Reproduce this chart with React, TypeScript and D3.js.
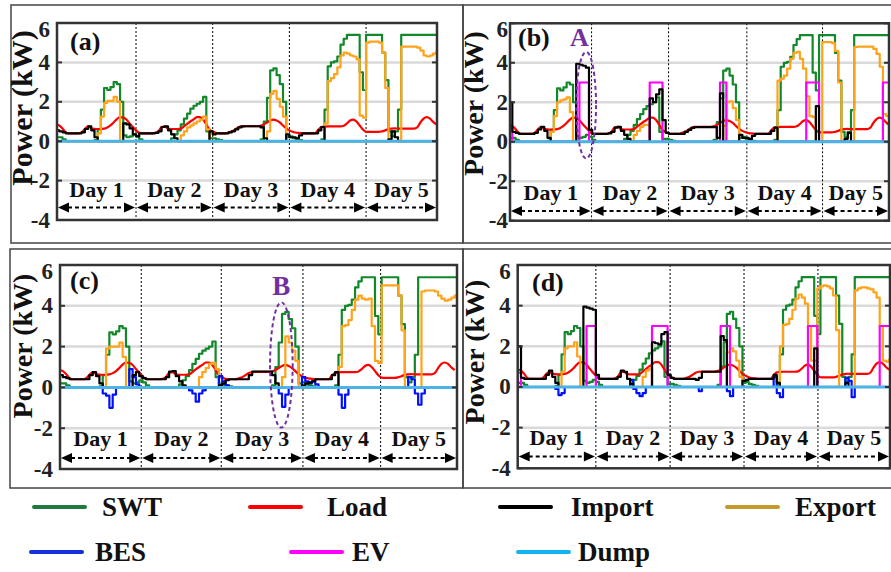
import React from "react";
import * as d3 from "d3";

// hourly samples, first sample at hour -1
const T_START = -1;

const SWT = [
  0.2,
  0.2, 0.1, 0, 0, 0, 0, 0, 0, 0, 0, 0, 0.05, 0.6, 1.6, 2.7, 2.6, 2.75, 3.0, 2.9, 2.0, 0.3, 0.2, 0.25, 0.35,
  0.25, 0.1, 0, 0, 0, 0, 0, 0, 0, 0, 0, 0.15, 0.35, 0.55, 0.85, 1.15, 1.4, 1.65, 1.8, 1.9, 2.0, 2.25, 0.5, 0.15,
  0.15, 0.1, 0.05, 0, 0, 0, 0, 0, 0, 0, 0, 0, 0, 0, 0, 0.1, 1.0, 2.2, 3.6, 3.7, 3.35, 2.9, 2.0, 0.2,
  0.25, 0.15, 0.1, 0.05, 0, 0, 0, 0, 0, 0, 0.1, 1.6, 3.8, 4.0, 4.05, 4.3, 4.9, 5.2, 5.4, 5.4, 5.4, 5.4, 3.5, 2.6,
  5.4, 5.4, 5.4, 5.4, 5.4, 4.5, 3.1, 0.5, 0.25, 0.5, 1.6, 5.4, 5.4, 5.4, 5.4, 5.4, 5.4, 5.4, 5.4, 5.4, 5.4, 5.4, 5.4,
];

const LOAD = [
  0.85,
  0.8, 0.65, 0.45, 0.4, 0.4, 0.4, 0.4, 0.45, 0.62, 0.75, 0.66, 0.63, 0.62, 0.62, 0.64, 0.7, 0.8, 0.95, 1.12, 1.22, 1.2, 1.1, 0.9, 0.72,
  0.55, 0.42, 0.4, 0.4, 0.4, 0.4, 0.42, 0.5, 0.72, 0.75, 0.64, 0.62, 0.62, 0.62, 0.64, 0.75, 0.88, 1.0, 1.1, 1.22, 1.22, 1.1, 0.85, 0.6,
  0.5, 0.42, 0.4, 0.4, 0.4, 0.45, 0.5, 0.6, 0.7, 0.75, 0.76, 0.76, 0.76, 0.76, 0.76, 0.78, 0.85, 0.95, 1.05, 1.1, 1.05, 0.95, 0.8, 0.65,
  0.55, 0.48, 0.44, 0.42, 0.4, 0.4, 0.4, 0.4, 0.4, 0.58, 0.72, 0.74, 0.75, 0.75, 0.75, 0.75, 0.75, 0.78, 0.9, 1.05, 1.1, 1.0, 0.8, 0.6,
  0.48, 0.47, 0.47, 0.47, 0.47, 0.5, 0.55, 0.62, 0.64, 0.65, 0.64, 0.64, 0.64, 0.64, 0.64, 0.64, 0.7, 0.95, 1.15, 1.22, 1.15, 0.98, 0.85,
];

const IMPORT_A = [
  0.55,
  0.5, 0.45, 0.4, 0.4, 0.4, 0.4, 0.4, 0.45, 0.62, 0.75, 0.55, 0.2, 0, 0, 0, 0, 0, 0, 0, 0, 0.9, 0.85, 0.65, 0.35,
  0.25, 0.4, 0.4, 0.4, 0.4, 0.4, 0.42, 0.5, 0.72, 0.75, 0.55, 0.35, 0.15, 0, 0, 0, 0, 0, 0, 0, 0, 0, 0, 0.5,
  0.35, 0.4, 0.4, 0.4, 0.4, 0.45, 0.5, 0.6, 0.7, 0.75, 0.76, 0.76, 0.76, 0.76, 0.76, 0.7, 0.15, 0, 0, 0, 0, 0, 0, 0.35,
  0.2, 0.2, 0.15, 0.3, 0.4, 0.4, 0.4, 0.4, 0.4, 0.55, 0.72, 0, 0, 0, 0, 0, 0, 0, 0, 0, 0, 0, 0, 0,
  0, 0, 0, 0, 0, 0, 0, 0.1, 0.5, 0.2, 0, 0, 0, 0, 0, 0, 0, 0, 0, 0, 0, 0, 0,
];

const EXPORT_A = [
  0,
  0, 0, 0, 0, 0, 0, 0, 0, 0, 0, 0, 0, 0.4, 1.25, 1.95, 2.05, 2.05, 2.25, 2.0, 0, 0, 0, 0, 0,
  0, 0, 0, 0, 0, 0, 0, 0, 0, 0, 0, 0, 0, 0, 0.3, 0.5, 0.7, 0.8, 0.9, 1.0, 1.1, 1.25, 0.6, 0,
  0, 0, 0, 0, 0, 0, 0, 0, 0, 0, 0, 0, 0, 0, 0, 0, 0, 0.5, 2.4, 2.55, 2.15, 1.75, 1.25, 0,
  0, 0, 0, 0, 0, 0, 0, 0, 0, 0, 0, 0.9, 3.05, 3.2, 3.4, 3.75, 4.35, 4.5, 4.45, 4.35, 4.3, 4.15, 1.3, 1.2,
  5.0, 5.05, 5.05, 5.05, 5.0, 4.5, 2.7, 0, 0, 0, 0, 4.8, 4.8, 4.8, 4.8, 4.8, 4.75, 4.6, 4.35, 4.3, 4.35, 4.45, 4.55,
];

const IMPORT_B = [
  2.0,
  0.5, 0.45, 0.4, 0.4, 0.4, 0.4, 0.4, 0.45, 0.62, 0.75, 0.55, 0.2, 0, 0, 0, 0, 0, 0, 0, 0, 3.95, 3.9, 3.85, 3.75,
  0.6, 0.4, 0.4, 0.4, 0.4, 0.4, 0.42, 0.5, 0.72, 0.75, 0.55, 0.35, 0.15, 0, 0, 0, 0, 0, 0, 2.2, 2.0, 2.4, 2.65, 1.1,
  0.45, 0.4, 0.4, 0.4, 0.4, 0.4, 0.5, 0.6, 0.7, 0.74, 0.74, 0.74, 0.74, 0.74, 0.74, 0.74, 0.2, 2.45, 0, 0, 0, 0, 0, 0.35,
  0.2, 0.2, 0.15, 0.3, 0.4, 0.4, 0.4, 0.4, 0.4, 0.55, 0.72, 0, 0, 0, 0, 0, 0, 0, 0, 0, 0, 0, 0, 1.8,
  0, 0, 0, 0, 0, 0, 0, 0, 0.15, 0.45, 0, 0, 0, 0, 0, 0, 0, 0, 0, 0, 0, 0, 0,
];

const EXPORT_B = [
  0,
  0, 0, 0, 0, 0, 0, 0, 0, 0, 0, 0, 0, 0.5, 1.3, 2.0, 2.1, 2.15, 2.25, 1.5, 0, 0, 0, 0, 0,
  0, 0, 0, 0, 0, 0, 0, 0, 0, 0, 0, 0, 0, 0, 0.35, 0.55, 0.75, 0.85, 0.85, 0, 0, 0, 0, 0,
  0, 0, 0, 0, 0, 0, 0, 0, 0, 0, 0, 0, 0, 0, 0, 0, 0, 0, 0.8, 2.0, 2.05, 1.7, 1.1, 0,
  0, 0, 0, 0, 0, 0, 0, 0, 0, 0, 0, 3.1, 3.2, 3.35, 3.7, 4.2, 4.5, 4.55, 4.2, 3.7, 2.3, 1.3, 1.25, 0,
  0, 5.05, 5.05, 5.05, 5.0, 4.6, 3.0, 0, 0, 0, 0, 4.8, 4.82, 4.82, 4.82, 4.82, 4.82, 4.7, 4.45, 3.8, 1.4, 1.3, 1.5,
];

const EV_B = [
  0.7,
  0, 0, 0, 0, 0, 0, 0, 0, 0, 0, 0, 0, 0, 0, 0, 0, 0, 0, 0, 0, 0, 3, 3, 3,
  0, 0, 0, 0, 0, 0, 0, 0, 0, 0, 0, 0, 0, 0, 0, 0, 0, 0, 0, 3, 3, 3, 3, 0,
  0, 0, 0, 0, 0, 0, 0, 0, 0, 0, 0, 0, 0, 0, 0, 0, 0, 3, 3, 0, 0, 0, 0, 0,
  0, 0, 0, 0, 0, 0, 0, 0, 0, 0, 0, 0, 0, 0, 0, 0, 0, 0, 0, 0, 3, 3, 3, 3,
  0, 0, 0, 0, 0, 0, 0, 0, 0, 0, 0, 0, 0, 0, 0, 0, 0, 0, 0, 0, 3, 3, 3,
];

const IMPORT_C = [
  0.6,
  0.5, 0.45, 0.4, 0.4, 0.4, 0.4, 0.4, 0.4, 0.6, 0.75, 0.55, 0.2, 0, 0, 0, 0, 0, 0, 0, 0, 0, 0.6, 0.75, 0.55,
  0.45, 0.4, 0.4, 0.4, 0.4, 0.4, 0.4, 0.5, 0.78, 0.8, 0.55, 0.3, 0.1, 0, 0, 0, 0, 0, 0, 0, 0, 0, 0, 0.1,
  0.2, 0.35, 0.4, 0.4, 0.4, 0.4, 0.4, 0.4, 0.6, 0.78, 0.78, 0.78, 0.78, 0.78, 0.78, 0.6, 0.2, 0, 0, 0, 0, 0, 0, 0,
  0.1, 0.2, 0.25, 0.3, 0.4, 0.4, 0.4, 0.4, 0.4, 0.6, 0.75, 0, 0, 0, 0, 0, 0, 0, 0, 0, 0, 0, 0, 0,
  0, 0, 0, 0, 0, 0, 0, 0, 0, 0, 0, 0, 0, 0, 0, 0, 0, 0, 0, 0, 0, 0, 0,
];

const EXPORT_C = [
  0,
  0, 0, 0, 0, 0, 0, 0, 0, 0, 0, 0, 0, 0, 1.9, 2.0, 2.0, 2.0, 2.2, 1.5, 0, 0, 0, 0, 0,
  0, 0, 0, 0, 0, 0, 0, 0, 0, 0, 0, 0, 0, 0, 0, 0, 0, 0.5, 0.75, 0.95, 1.15, 1.2, 0.9, 0,
  0, 0, 0, 0, 0, 0, 0, 0, 0, 0, 0, 0, 0, 0, 0, 0, 0, 0, 0.5, 2.5, 2.2, 1.8, 1.3, 0,
  0, 0, 0, 0, 0, 0, 0, 0, 0, 0, 0, 1.0, 3.0, 3.05, 3.3, 3.8, 4.3, 4.5, 4.35, 4.3, 4.35, 3.0, 1.3, 1.2,
  5.0, 5.0, 5.0, 5.0, 5.0, 4.5, 2.8, 0, 0, 0, 0, 0, 4.7, 4.75, 4.75, 4.75, 4.7, 4.5, 4.35, 4.25, 4.3, 4.4, 4.5,
];

const BES_C = [
  0,
  0, 0, 0, 0, 0, 0, 0, 0, 0, 0, 0, 0, -0.3, -0.4, -1.0, -0.35, 0, 0, 0, 0, 0.9, 0.5, 0.15, 0,
  0, 0, 0, 0, 0, 0, 0, 0, 0, 0, 0, 0, 0, 0, -0.15, -0.3, -0.7, -0.3, -0.15, 0, 0, 0, 0, 0.55,
  0.3, 0.1, 0, 0, 0, 0, 0, 0, 0, 0, 0, 0, 0, 0, 0, 0, 0, -0.3, -0.95, -0.35, 0, 0, 0, 0,
  0.5, 0.3, 0.2, 0.3, 0.15, 0, 0, 0, 0, 0, 0, -0.35, -1.0, -0.35, 0, 0, 0, 0, 0, 0, 0, 0, 0, 0,
  0, 0, 0, 0, 0, 0, 0, 0, 0.5, 0.4, -0.3, -0.85, -0.3, 0, 0, 0, 0, 0, 0, 0, 0, 0, 0,
];

const IMPORT_D = [
  2.0,
  0.45, 0.4, 0.4, 0.4, 0.4, 0.4, 0.4, 0.4, 0.6, 0.8, 0.5, 0.2, 0, 0, 0, 0, 0, 0, 0, 0, 3.95, 3.9, 3.85, 3.8,
  0.6, 0.4, 0.4, 0.4, 0.4, 0.4, 0.4, 0.5, 0.8, 0.75, 0.4, 0.15, 0, 0, 0, 0, 0, 0, 2.2, 2.15, 2.1, 2.6, 2.7, 0.6,
  0.45, 0.4, 0.4, 0.4, 0.4, 0.4, 0.4, 0.4, 0.35, 0.45, 0.75, 0.75, 0.75, 0.75, 0.75, 0.75, 2.5, 2.3, 0, 0, 0, 0, 0, 0.3,
  0.35, 0.4, 0.4, 0.4, 0.4, 0.4, 0.4, 0.4, 0.4, 0.6, 0.2, 0, 0, 0, 0, 0, 0, 0, 0, 0, 0, 0, 1.9, 0,
  0, 0, 0, 0, 0, 0, 0, 0, 0.2, 0, 0, 0, 0, 0, 0, 0, 0, 0, 0, 0, 0, 0, 0,
];

const EXPORT_D = [
  0,
  0, 0, 0, 0, 0, 0, 0, 0, 0, 0, 0, 0, 0, 0.75, 1.9, 2.0, 2.0, 2.2, 1.5, 0, 0, 0, 0, 0,
  0, 0, 0, 0, 0, 0, 0, 0, 0, 0, 0, 0, 0, 0, 0, 0.5, 0.8, 0.9, 0, 0, 0, 0, 0, 0,
  0, 0, 0, 0, 0, 0, 0, 0, 0, 0, 0, 0, 0, 0, 0, 0, 0, 0, 1.7, 1.9, 1.75, 1.3, 0.5, 0,
  0, 0, 0, 0, 0, 0, 0, 0, 0, 0, 0, 2.0, 3.05, 3.1, 3.35, 3.8, 4.35, 4.55, 4.4, 4.1, 3.0, 1.3, 1.3, 4.85,
  4.95, 5.0, 4.95, 4.85, 4.5, 2.8, 0, 0, 0, 0, 0, 4.75, 4.85, 4.9, 4.9, 4.85, 4.8, 4.65, 4.4, 3.0, 1.3, 1.25, 1.35,
];

const EV_D = [
  0.7,
  0, 0, 0, 0, 0, 0, 0, 0, 0, 0, 0, 0, 0, 0, 0, 0, 0, 0, 0, 0, 0, 3, 3, 3,
  0, 0, 0, 0, 0, 0, 0, 0, 0, 0, 0, 0, 0, 0, 0, 0, 0, 0, 3, 3, 3, 3, 3, 0,
  0, 0, 0, 0, 0, 0, 0, 0, 0, 0, 0, 0, 0, 0, 0, 0, 3, 3, 3, 0, 0, 0, 0, 0,
  0, 0, 0, 0, 0, 0, 0, 0, 0, 0, 0, 0, 0, 0, 0, 0, 0, 0, 0, 0, 3, 3, 3, 0,
  0, 0, 0, 0, 0, 0, 0, 0, 0, 0, 0, 0, 0, 0, 0, 0, 0, 0, 0, 3, 3, 3, 3,
];

const BES_D = [
  0,
  0, 0, 0, 0, 0, 0, 0, 0, 0, 0, 0, -0.1, -0.4, -0.3, 0, 0, 0, 0, 0, 0, 0, 0, 0, 0,
  0, 0, 0, 0, 0, 0, 0, 0, 0, 0, 0, 0.35, -0.1, -0.3, -0.45, -0.3, 0, 0, 0, 0, 0, 0, 0, 0,
  0, 0, 0, 0, 0, 0, 0, 0, 0, -0.2, 0, 0, 0, 0, 0, 0, 0, 0, -0.2, -0.45, 0, 0, 0, 0,
  0, 0, 0, 0, 0, 0, 0, 0, 0, 0.5, -0.3, -0.5, 0, 0, 0, 0, 0, 0, 0, 0, 0, 0, 0, 0,
  0, 0, 0, 0, 0, 0, 0, 0, 0.45, 0.3, -0.5, 0, 0, 0, 0, 0, 0, 0, 0, 0, 0, 0, 0,
];

const DUMP_T = [-1, 119];
const DUMP_V = [0, 0];

const Y_TICKS = [-4, -2, 0, 2, 4, 6];
const GRID_VALUES = [-2, 0, 2, 4];
const DAY_LABELS = ["Day 1", "Day 2", "Day 3", "Day 4", "Day 5"];
const PANEL_LABELS = ["(a)", "(b)", "(c)", "(d)"];

const LEGEND_NAMES = ["SWT", "Load", "Import", "Export", "BES", "EV", "Dump"];

const FONT = "'Liberation Serif','Times New Roman',Times,serif";

const COLORS = {
  swt: "#12882a",
  load: "#ff0000",
  exp: "#ffa31a",
  imp: "#000000",
  bes: "#0010ff",
  ev: "#ff00ff",
  dump: "#4cb3e6",
};
const LEGEND_COLORS = ["#1f7a3d", "#ff0000", "#000000", "#c49a2a", "#1530e0", "#ff00ff", "#12b4ef"];

type Layout = {
  left: number; right: number; top: number; bottom: number;
  xDomain: [number, number];
  dayLines: number[];
  tickGap: number;
  titleX: number; titleY: number; titleSize: number;
  labelX: number; labelY: number;
  dayY: number; arrowY: number;
  box: [number, number, number, number];
};

const LAYOUTS: Layout[] = [
  { left: 57, right: 437, top: 23, bottom: 220, xDomain: [-0.73, 118.2], dayLines: [24, 48, 72, 96], tickGap: 7,
    titleX: 32, titleY: 108, titleSize: 30, labelX: 70, labelY: 50, dayY: 197, arrowY: 207.5, box: [11, 5, 452, 238] },
  { left: 510, right: 889, top: 23.3, bottom: 220.7, xDomain: [-0.73, 117.9], dayLines: [24.8, 48.9, 73.4, 97.1], tickGap: 2,
    titleX: 483, titleY: 103.5, titleSize: 28, labelX: 518, labelY: 46, dayY: 200, arrowY: 211, box: [463, 5, 440, 238] },
  { left: 60, right: 457, top: 265, bottom: 469, xDomain: [-0.87, 118.7], dayLines: [23.6, 47.7, 72.3, 95.7], tickGap: 7,
    titleX: 32, titleY: 346, titleSize: 28, labelX: 70, labelY: 289, dayY: 446, arrowY: 458, box: [10, 249, 453, 239] },
  { left: 517.7, right: 890, top: 265, bottom: 468.3, xDomain: [-1.06, 118.3], dayLines: [24, 47.8, 71.5, 95.2], tickGap: 7,
    titleX: 484, titleY: 352, titleSize: 28, labelX: 532, labelY: 291, dayY: 445, arrowY: 456.5, box: [463, 249, 440, 239] },
];

type Series = { imp: number[]; exp: number[]; ev: number[] | null; bes: number[] | null };
const SERIES: Series[] = [
  { imp: IMPORT_A, exp: EXPORT_A, ev: null, bes: null },
  { imp: IMPORT_B, exp: EXPORT_B, ev: EV_B, bes: null },
  { imp: IMPORT_C, exp: EXPORT_C, ev: null, bes: BES_C },
  { imp: IMPORT_D, exp: EXPORT_D, ev: EV_D, bes: BES_D },
];

// annotations in data coordinates
const ANNOTATIONS = [
  { panel: 1, letter: "A", t: 23.1, v: 1.85, rt: 3.1, rv: 2.7, lt: 21.0, lv: 4.85, size: 26 },
  { panel: 2, letter: "B", t: 65.8, v: 1.1, rt: 3.4, rv: 3.07, lt: 65.8, lv: 4.53, size: 27 },
];

function stepPath(vals: number[], x: d3.ScaleLinear<number, number>, y: d3.ScaleLinear<number, number>) {
  const pts: [number, number][] = vals.map((v, i) => [i + T_START, v]);
  pts.push([vals.length + T_START, vals[vals.length - 1]]);
  return d3.line<[number, number]>().x((d) => x(d[0])).y((d) => y(d[1])).curve(d3.curveStepAfter)(pts) || "";
}
function smoothPath(vals: number[], x: d3.ScaleLinear<number, number>, y: d3.ScaleLinear<number, number>) {
  const pts: [number, number][] = vals.map((v, i) => [i + T_START, v]);
  return d3.line<[number, number]>().x((d) => x(d[0])).y((d) => y(d[1])).curve(d3.curveMonotoneX)(pts) || "";
}

function Panel({ idx }: { idx: number }) {
  const L = LAYOUTS[idx];
  const S = SERIES[idx];
  const x = d3.scaleLinear().domain(L.xDomain).range([L.left, L.right]);
  const y = d3.scaleLinear().domain([-4, 6]).range([L.bottom, L.top]);
  const clipId = `clip-${idx}`;
  const bounds = [L.left, ...L.dayLines.map((d) => x(d)), L.right];
  const dumpPts: [number, number][] = DUMP_T.map((t, i) => [t, DUMP_V[i]]);
  const dumpPath = d3.line<[number, number]>().x((d) => x(d[0])).y((d) => y(d[1]))(dumpPts) || "";
  const ann = ANNOTATIONS.filter((a) => a.panel === idx);
  const lw = 2.2;
  return (
    <g>
      <rect x={L.box[0]} y={L.box[1]} width={L.box[2]} height={L.box[3]} fill="none" stroke="#444" strokeWidth={1.5} />
      <defs>
        <clipPath id={clipId}>
          <rect x={L.left} y={L.top} width={L.right - L.left} height={L.bottom - L.top} />
        </clipPath>
      </defs>
      {GRID_VALUES.map((g) => (
        <line key={g} x1={L.left} x2={L.right} y1={y(g)} y2={y(g)} stroke="#dadada" strokeWidth={2.5} />
      ))}
      {L.dayLines.map((d, i) => (
        <line key={i} x1={x(d)} x2={x(d)} y1={L.top} y2={L.bottom} stroke="#000" strokeWidth={1} strokeDasharray="2,2" />
      ))}
      <g clipPath={`url(#${clipId})`} fill="none" strokeLinejoin="round">
        <path d={stepPath(SWT, x, y)} stroke={COLORS.swt} strokeWidth={lw} />
        <path d={smoothPath(LOAD, x, y)} stroke={COLORS.load} strokeWidth={lw} />
        <path d={stepPath(S.exp, x, y)} stroke={COLORS.exp} strokeWidth={lw} />
        {S.ev && <path d={stepPath(S.ev, x, y)} stroke={COLORS.ev} strokeWidth={lw} />}
        {S.bes && <path d={stepPath(S.bes, x, y)} stroke={COLORS.bes} strokeWidth={lw} />}
        <path d={stepPath(S.imp, x, y)} stroke={COLORS.imp} strokeWidth={lw} />
        <path d={dumpPath} stroke={COLORS.dump} strokeWidth={3} />
      </g>
      <rect x={L.left} y={L.top} width={L.right - L.left} height={L.bottom - L.top} fill="none" stroke="#333" strokeWidth={2.5} />
      {Y_TICKS.map((t) => (
        <g key={t}>
          <line x1={L.left} x2={L.left + 5} y1={y(t)} y2={y(t)} stroke="#333" strokeWidth={2} />
          <line x1={L.right - 5} x2={L.right} y1={y(t)} y2={y(t)} stroke="#333" strokeWidth={2} />
          <text x={L.left - L.tickGap} y={y(t) + (t === 6 ? 6 : 0)} textAnchor="end" dominantBaseline="central"
            fontFamily={FONT} fontWeight="bold" fontSize={23} fill="#222">{t}</text>
        </g>
      ))}
      <text transform={`translate(${L.titleX},${L.titleY}) rotate(-90)`} textAnchor="middle"
        fontFamily={FONT} fontWeight="bold" fontSize={L.titleSize} fill="#111">Power (kW)</text>
      <text x={L.labelX} y={L.labelY} fontFamily={FONT} fontWeight="bold" fontSize={26} fill="#111">{PANEL_LABELS[idx]}</text>
      {DAY_LABELS.map((lab, i) => {
        const s = bounds[i], e = bounds[i + 1];
        const ay = L.arrowY;
        return (
          <g key={lab}>
            <text x={(s + e) / 2} y={L.dayY} textAnchor="middle" fontFamily={FONT} fontWeight="bold" fontSize={22} fill="#111">{lab}</text>
            <line x1={s + 11} x2={e - 11} y1={ay} y2={ay} stroke="#000" strokeWidth={2} strokeDasharray="4,3" />
            <polygon points={`${s + 1},${ay} ${s + 12},${ay - 5} ${s + 12},${ay + 5}`} fill="#000" />
            <polygon points={`${e - 1},${ay} ${e - 12},${ay - 5} ${e - 12},${ay + 5}`} fill="#000" />
          </g>
        );
      })}
      {ann.map((a) => (
        <g key={a.letter}>
          <ellipse cx={x(a.t)} cy={y(a.v)} rx={x(a.t + a.rt) - x(a.t)} ry={y(a.v - a.rv) - y(a.v)}
            fill="none" stroke="#7030a0" strokeWidth={2} strokeDasharray="4,3" />
          <text x={x(a.lt)} y={y(a.lv)} textAnchor="middle" fontFamily={FONT} fontWeight="bold" fontSize={a.size} fill="#7030a0">{a.letter}</text>
        </g>
      ))}
    </g>
  );
}

const LEGEND_POS = [
  { lx: 34, tx: 102, y: 507 },
  { lx: 250, tx: 327, y: 507 },
  { lx: 500, tx: 571, y: 507 },
  { lx: 727, tx: 795, y: 507 },
  { lx: 31, tx: 95, y: 552 },
  { lx: 291, tx: 352, y: 552 },
  { lx: 518, tx: 578, y: 552 },
];

export default function App() {
  return (
    <svg width={891} height={572} style={{ position: "absolute", left: 0, top: 0, background: "#fff" }}>
      <rect x={0} y={0} width={891} height={572} fill="#fff" />
      {LAYOUTS.map((_, i) => (
        <Panel key={i} idx={i} />
      ))}
      {LEGEND_NAMES.map((n, i) => {
        const p = LEGEND_POS[i];
        return (
          <g key={n}>
            <line x1={p.lx} x2={p.lx + 51} y1={p.y} y2={p.y} stroke={LEGEND_COLORS[i]} strokeWidth={4} strokeLinecap="round" />
            <text x={p.tx} y={p.y + 9} fontFamily={FONT} fontWeight="bold" fontSize={27} fill="#111">{n}</text>
          </g>
        );
      })}
    </svg>
  );
}
